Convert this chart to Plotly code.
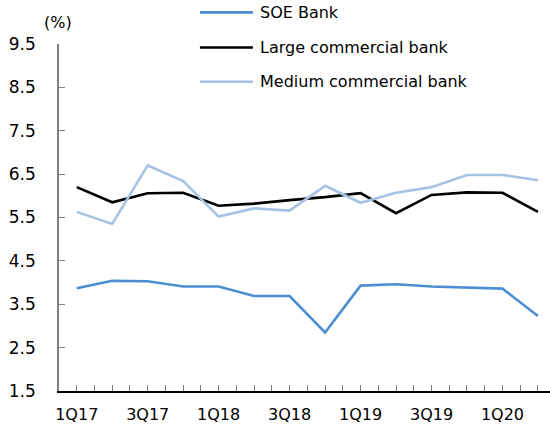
import plotly.graph_objects as go

quarters = ["1Q17", "2Q17", "3Q17", "4Q17", "1Q18", "2Q18", "3Q18", "4Q18",
            "1Q19", "2Q19", "3Q19", "4Q19", "1Q20", "2Q20"]
soe_bank = [3.87, 4.04, 4.03, 3.91, 3.91, 3.69, 3.69, 2.85,
            3.93, 3.96, 3.91, 3.89, 3.86, 3.23]
large_bank = [6.20, 5.85, 6.06, 6.07, 5.77, 5.82, 5.90, 5.97,
              6.06, 5.60, 6.02, 6.08, 6.07, 5.63]
medium_bank = [5.63, 5.35, 6.70, 6.34, 5.52, 5.71, 5.66, 6.23,
               5.84, 6.07, 6.20, 6.48, 6.48, 6.36]
series_names = ["SOE Bank", "Large commercial bank", "Medium commercial bank"]
series_colors = ["#4D8ED2", "#000000", "#A8C2E6"]
y_ticks = [1.5, 2.5, 3.5, 4.5, 5.5, 6.5, 7.5, 8.5, 9.5]

FONT = "DejaVu Sans"
x_idx = list(range(len(quarters)))

fig = go.Figure()
for name, vals, col in zip(series_names, [soe_bank, large_bank, medium_bank], series_colors):
    fig.add_trace(go.Scatter(x=x_idx, y=vals, mode="lines", name=name,
                             line=dict(color=col, width=2.6), showlegend=False,
                             hovertext=quarters))

# hand-built legend: long line samples with labels to their right
leg_y = [1.091, 0.990, 0.891]
for name, col, yy in zip(series_names, series_colors, leg_y):
    fig.add_shape(type="line", xref="paper", yref="paper",
                  x0=0.287, x1=0.395, y0=yy, y1=yy,
                  line=dict(color=col, width=2.6))
    fig.add_annotation(text=name, xref="paper", yref="paper", x=0.405, y=yy,
                       xanchor="left", yanchor="middle", showarrow=False,
                       font=dict(family=FONT, size=16, color="#000000"))

fig.add_annotation(text="(%)", xref="paper", yref="paper", x=-0.003, y=1.063,
                   xanchor="center", yanchor="middle", showarrow=False,
                   font=dict(family=FONT, size=16, color="#000000"))

tick_pos = x_idx[::2]
fig.update_xaxes(range=[-0.5, 13.34], tickvals=tick_pos,
                 ticktext=[quarters[i] for i in tick_pos],
                 ticks="inside", ticklen=6, tickcolor="#808080", tickwidth=1,
                 minor=dict(tick0=-0.5, dtick=0.5, ticks="inside", ticklen=6,
                            tickcolor="#808080", tickwidth=1),
                 showline=True, linecolor="#000000", linewidth=1.5,
                 showgrid=False, zeroline=False, ticklabelstandoff=8,
                 tickfont=dict(family=FONT, size=16, color="#000000"))
fig.update_yaxes(range=[1.5, 9.5], tickvals=y_ticks,
                 ticktext=[f"{v:.1f}" for v in y_ticks],
                 ticks="inside", ticklen=6, tickcolor="#808080", tickwidth=1,
                 showline=True, linecolor="#808080", linewidth=1.5,
                 showgrid=False, zeroline=False, ticklabelstandoff=18,
                 tickfont=dict(family=FONT, size=17, color="#000000"))

fig.update_layout(width=550, height=425,
                  margin=dict(l=59, r=0, t=44, b=34),
                  paper_bgcolor="white", plot_bgcolor="white",
                  font=dict(family=FONT, size=16, color="#000000"))

fig.write_html("out.html")
